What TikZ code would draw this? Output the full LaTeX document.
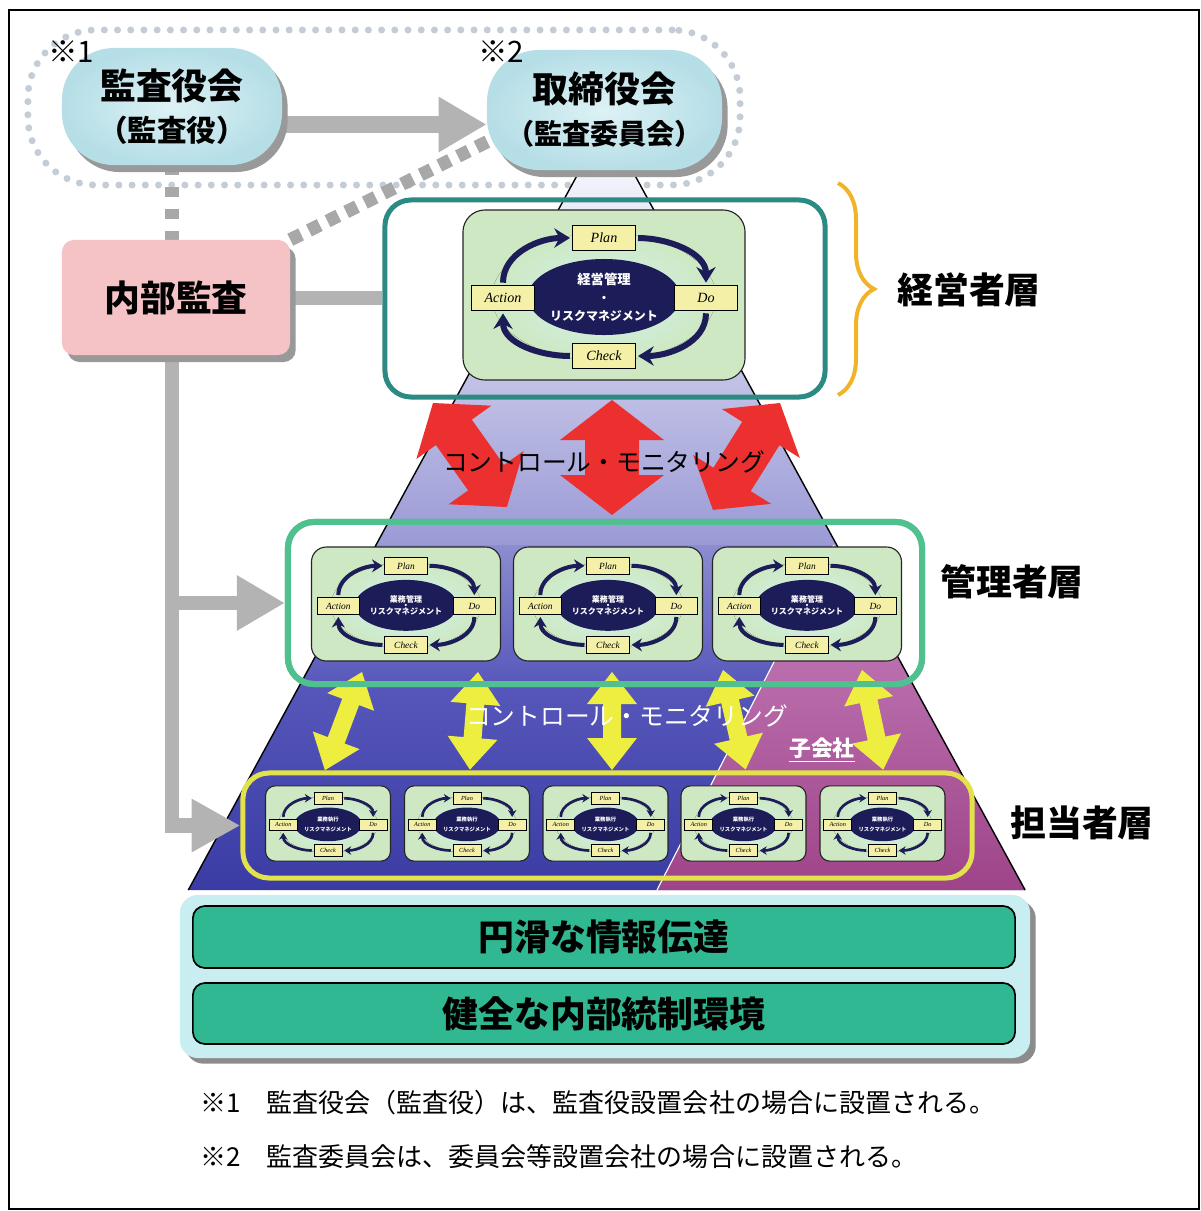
\documentclass[tikz,border=0pt]{standalone}
\usepackage{fontspec}
\setmainfont{Noto Sans CJK JP}
\newfontfamily\pdcafont{Liberation Serif}
\usetikzlibrary{arrows.meta,shapes.geometric,shadows,decorations.pathreplacing,calc}

\definecolor{pillblue}{HTML}{B6DEE7}
\definecolor{pillin}{HTML}{DDF2F5}
\definecolor{pinkbox}{HTML}{F5C2C6}
\definecolor{grayc}{HTML}{B3B3B3}
\definecolor{dashc}{HTML}{A8A8A8}
\definecolor{dotc}{HTML}{C4CCD6}
\definecolor{tealc}{HTML}{2C8A84}
\definecolor{greenc}{HTML}{4FC08E}
\definecolor{yellowc}{HTML}{E2E24A}
\definecolor{bracec}{HTML}{F0B42A}
\definecolor{redc}{HTML}{EC3030}
\definecolor{yarrc}{HTML}{EEEE40}
\definecolor{pdcag}{HTML}{CDE8C2}
\definecolor{glowc}{HTML}{D4F4F2}
\definecolor{navyc}{HTML}{1C1C58}
\definecolor{tagc}{HTML}{F4F0A8}
\definecolor{basec}{HTML}{C8EEF2}
\definecolor{barc}{HTML}{30B892}
\definecolor{pyrA}{HTML}{F4F4FC}
\definecolor{pyrB}{HTML}{9A9AD6}
\definecolor{pyrC}{HTML}{8C8CD0}
\definecolor{pyrD}{HTML}{5656BA}
\definecolor{pyrE}{HTML}{3A3CA4}
\definecolor{pinkA}{HTML}{C884C0}
\definecolor{pinkB}{HTML}{9E4488}

\pgfdeclarelayer{bg}
\pgfdeclarelayer{conn}
\pgfsetlayers{bg,conn,main}

\tikzset{
  big/.style={font=\bfseries\fontsize{25.5}{30}\selectfont, inner sep=0pt},
  pill/.style={rounded corners=1.3cm, inner sep=0pt, align=center,
    inner color=pillin, outer color=pillblue,
    drop shadow={shadow xshift=4pt, shadow yshift=-5pt, fill=black!40, opacity=1},
    font=\bfseries\fontsize{25.5}{30}\selectfont},
  auditbox/.style={rounded corners=0.3cm, fill=pinkbox, inner sep=0pt,
    minimum width=5.7cm, minimum height=2.875cm,
    drop shadow={shadow xshift=4pt, shadow yshift=-5pt, fill=black!40, opacity=1},
    font=\bfseries\fontsize{25.5}{30}\selectfont},
  grpbox/.style={draw=dotc, line width=0.175cm, dash pattern=on 0pt off 0.33cm,
    line cap=round, rounded corners=1.7cm, minimum width=17.8cm, minimum height=3.875cm},
  grayconn/.style={draw=grayc},
  graydash/.style={draw=dashc, line width=0.35cm, dash pattern=on 0.25cm off 0.3cm},
  graydashb/.style={draw=dashc, line width=0.33cm, dash pattern=on 0.3cm off 0.22cm},
  frame/.style={rounded corners=0.65cm, inner sep=0pt},
  pdcabox/.style={rectangle, fill=pdcag, draw=black!85, line width=0.8pt,
    minimum width=7.05cm, minimum height=4.25cm, inner sep=0pt},
  pdcaell/.style={ellipse, fill=navyc, text=white, minimum width=3.35cm,
    minimum height=1.9cm, inner sep=0pt, align=center,
    font=\bfseries\fontsize{8.5}{13}\selectfont},
  pdcatag/.style={rectangle, draw=black, fill=tagc, line width=0.6pt,
    minimum width=1.575cm, minimum height=0.64cm, inner sep=0pt,
    font=\pdcafont\itshape\fontsize{10}{10}\selectfont},
  pdcaarr/.style={draw=navyc, -{Stealth[length=0pt 2.6, width=0pt 3.2]},
    shorten <=1.5pt, shorten >=1.5pt},
  ctrl/.style={inner sep=0pt, font=\fontsize{17.6}{20}\selectfont},
  barbox/.style={rounded corners=0.3cm, fill=barc, draw=black, line width=1.2pt,
    minimum width=20.55cm, inner sep=0pt, font=\bfseries\fontsize{25.5}{30}\selectfont},
  notetext/.style={anchor=west, inner sep=0pt, font=\fontsize{18.5}{22}\selectfont}
}

\newcommand\pdca[5]{%
\begin{scope}[shift={(#2,#3)},scale=#4,transform shape]
\node[pdcabox, rounded corners={#4*0.55cm}] (#1) at (0,0) {};
\fill[inner color=glowc, outer color=pdcag] (0,2) ellipse [x radius=112, y radius=64];
\node[pdcaell] (#1-e) at (0,2) {#5};
\node[pdcatag] (#1-p) at (0,-57) {Plan};
\node[pdcatag] (#1-d) at (102,3) {Do};
\node[pdcatag] (#1-c) at (0,61) {Check};
\node[pdcatag] (#1-a) at (-101,3) {Action};
\draw[pdcaarr, line width={#4*0.15cm}] (#1-a.north) .. controls +(0,-32) and +(-32,0) .. (#1-p.west);
\draw[pdcaarr, line width={#4*0.15cm}] (#1-p.east) .. controls +(32,0) and +(0,-32) .. (#1-d.north);
\draw[pdcaarr, line width={#4*0.15cm}] (#1-d.south) .. controls +(0,32) and +(32,0) .. (#1-c.east);
\draw[pdcaarr, line width={#4*0.15cm}] (#1-c.west) .. controls +(-32,0) and +(0,32) .. (#1-a.south);
\end{scope}}

% colour, x, y, angle, length, head length, head half width, shaft half width
\newcommand\dblarrow[8]{%
\fill[#1,shift={(#2,#3)},rotate=#4] (0,0) -- (#6,#7) -- (#6,#8) -- ({#5-#6},#8) -- ({#5-#6},#7)
  -- (#5,0) -- ({#5-#6},-#7) -- ({#5-#6},-#8) -- (#6,-#8) -- (#6,-#7) -- cycle;}

\begin{document}
\begin{tikzpicture}[x=0.025cm,y=-0.025cm]
\useasboundingbox (0,0) rectangle (1201,1211);

\begin{pgfonlayer}{bg}
\fill[white] (0,0) rectangle (1201,1211);
\node[grpbox] (grp) at (384,107.5) {};
% pyramid
\shade[top color=pyrA, bottom color=pyrB] (580,170) -- (632,170) -- (836.8,545) -- (376,545) -- cycle;
\shade[top color=pyrC, bottom color=pyrD] (376,545) -- (836.8,545) -- (915.9,690) -- (297.1,690) -- cycle;
\shade[top color=pyrD, bottom color=pyrE] (297.1,690) -- (915.9,690) -- (1025.1,890) -- (188.3,890) -- cycle;
\shade[top color=pinkA, bottom color=pinkB] (834,545) -- (836.8,545) -- (1025.1,890) -- (657,890) -- cycle;
\draw[white, line width=0.8pt] (834,545) -- (657,890);
\draw[black, line width=1pt] (580,170) -- (188.3,890) (632,170) -- (1025.1,890);
\end{pgfonlayer}

% top nodes
\node[pill, minimum width=5.5cm, minimum height=2.925cm] (kansa) at (172,106.5)
  {監査役会\\{\fontsize{21}{26}\selectfont （監査役）}};
\node[pill, minimum width=5.875cm, minimum height=3cm] (tori) at (604.5,110)
  {取締役会\\{\fontsize{20}{26}\selectfont （監査委員会）}};
\node[anchor=west, inner sep=0pt, font=\fontsize{21}{24}\selectfont] (mk1) at (48,52) {※1};
\node[anchor=west, inner sep=0pt, font=\fontsize{21}{24}\selectfont] (mk2) at (478,52) {※2};
\node[auditbox] (naudit) at (176,297.5) {内部監査};

% frames
\node[frame, draw=tealc, line width=0.125cm, minimum width=11cm, minimum height=4.925cm] (mgmt) at (605,298.5) {};
\node[frame, draw=greenc, line width=0.15cm, minimum width=15.85cm, minimum height=4.05cm] (midframe) at (605,603) {};

% yellow arrows
\dblarrow{yarrc}{362}{672}{-110.7}{105}{32}{25}{9}
\dblarrow{yarrc}{478}{672}{-94.7}{98}{32}{25}{9}
\dblarrow{yarrc}{612}{672}{-90}{98}{32}{25}{9}
\dblarrow{yarrc}{723}{670}{-77.2}{102}{32}{25}{9}
\dblarrow{yarrc}{862}{670}{-78}{102}{32}{25}{9}

% red arrows
\dblarrow{redc}{612}{400}{-90}{115}{40}{52}{27}
\dblarrow{redc}{433}{403}{-54.6}{127.6}{36}{46}{22}
\dblarrow{redc}{780}{403}{-122.1}{126.2}{36}{46}{22}

\node[frame, draw=greenc, line width=0.15cm, minimum width=15.85cm, minimum height=4.05cm] (midframe2) at (605,603) {};
\node[frame, draw=yellowc, line width=0.125cm, minimum width=18.225cm, minimum height=2.625cm] (botframe) at (607.5,825.5) {};

% PDCA cycles
\pdca{top}{604}{295}{1}{{\fontsize{9.5}{13}\selectfont 経営管理}\\・\\リスクマネジメント}
\pdca{m1}{406}{604}{0.67}{業務管理\\[-7pt]・\\[-7pt]リスクマネジメント}
\pdca{m2}{608}{604}{0.67}{業務管理\\[-7pt]・\\[-7pt]リスクマネジメント}
\pdca{m3}{807}{604}{0.67}{業務管理\\[-7pt]・\\[-7pt]リスクマネジメント}
\pdca{b1}{328}{823.5}{0.443}{業務執行\\[2pt]リスクマネジメント}
\pdca{b2}{467}{823.5}{0.443}{業務執行\\[2pt]リスクマネジメント}
\pdca{b3}{605.5}{823.5}{0.443}{業務執行\\[2pt]リスクマネジメント}
\pdca{b4}{743.5}{823.5}{0.443}{業務執行\\[2pt]リスクマネジメント}
\pdca{b5}{882.5}{823.5}{0.443}{業務執行\\[2pt]リスクマネジメント}

% texts on pyramid
\node[ctrl] (ctl1) at (604,462) {コントロール・モニタリング};
\node[ctrl, text=white] (ctl2) at (627,716) {コントロール・モニタリング};
\node[inner sep=0pt, text=white, font=\bfseries\fontsize{15.5}{18}\selectfont] (sub) at (822,750) {\underline{子会社}};

% brace and layer labels
\draw[draw=bracec, line width=0.1cm, decorate, decoration={brace, amplitude=0.9cm}] (838,183) -- (838,395);
\node[big, anchor=west] (lab1) at (897,290) {経営者層};
\node[big, anchor=west] (lab2) at (940,582) {管理者層};
\node[big, anchor=west] (lab3) at (1010,823) {担当者層};

% foundation
\node[rounded corners=0.45cm, fill=basec, minimum width=21.25cm, minimum height=4.075cm,
  drop shadow={shadow xshift=4pt, shadow yshift=-4pt, fill=black!45, opacity=1}] (base) at (605,976.5) {};
\node[barbox, minimum height=1.55cm] (bar1) at (604,937) {円滑な情報伝達};
\node[barbox, minimum height=1.525cm] (bar2) at (604,1013.5) {健全な内部統制環境};

% notes
\node[notetext] (note1) at (200,1103) {※1　監査役会（監査役）は、監査役設置会社の場合に設置される。};
\node[notetext] (note2) at (200,1157) {※2　監査委員会は、委員会等設置会社の場合に設置される。};

% connectors
\begin{pgfonlayer}{conn}
\draw[grayconn, line width=0.43cm, -{Triangle[length=1.2cm,width=1.3cm]}]
  ($(kansa.east)+(0,18)$) -- ($(kansa.east -| tori.west)+(0,18)$);
\draw[graydash] (kansa.south) -- (kansa.south |- naudit.north);
\draw[graydashb] (naudit.north east) -- ($(tori.west)+(8,28)$);
\draw[grayconn, line width=0.35cm] (naudit.east) -- (naudit.east -| mgmt.west);
\draw[grayconn, line width=0.37cm, -{Triangle[length=1.2cm,width=1.3cm]}]
  (kansa.south |- naudit.south) |- (midframe.west);
\draw[grayconn, line width=0.37cm, -{Triangle[length=1.22cm,width=1.25cm]}]
  (kansa.south |- naudit.south) |- (botframe.west);
\end{pgfonlayer}

\draw[line width=1.2pt] (9,10) rectangle (1199,1209);
\end{tikzpicture}
\end{document}
